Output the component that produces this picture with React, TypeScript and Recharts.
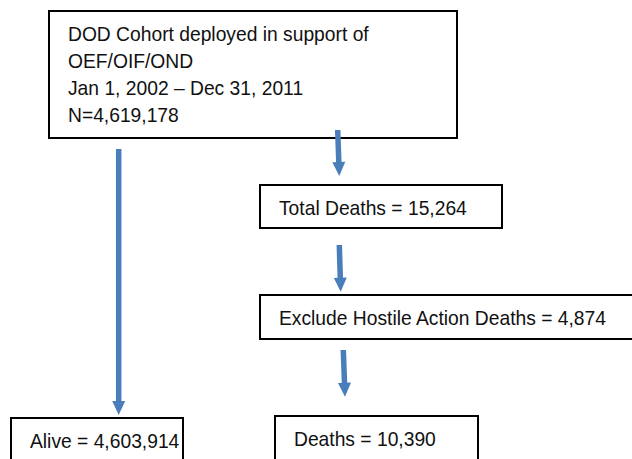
import React from 'react';
import { ComposedChart, XAxis, YAxis, Scatter, ReferenceArea, ReferenceLine } from 'recharts';

// flowchart boxes (page coordinates, y grows downward)
const boxLabels: string[][] = [
    ['DOD Cohort deployed in support of', 'OEF/OIF/OND', 'Jan 1, 2002 \u2013 Dec 31, 2011', 'N=4,619,178'],
    ['Total Deaths = 15,264'],
    ['Exclude Hostile Action Deaths = 4,874'],
    ['Alive = 4,603,914'],
    ['Deaths = 10,390'],
];
const boxLeft = [49, 260, 260, 11, 275];
const boxRight = [457, 502, 640, 183, 478];
const boxTop = [11, 185, 295, 418, 416];
const boxBottom = [138, 228, 339, 470, 470];

// arrows: start -> tip
const arrowFromX = [118.7, 337.7, 339.3, 343.3];
const arrowFromY = [149, 130, 245, 350];
const arrowToX = [118.7, 339.3, 340.7, 345];
const arrowToY = [415, 176, 291.7, 396.7];

const nodes = boxLabels.map((lines, i) => ({ x: boxLeft[i], y: boxTop[i], lines }));

const BLUE = '#4A7EBB';
const FONT = '"Liberation Sans", Arial, Helvetica, sans-serif';
const SX = 0.94;

const BoxText = (props: any) => {
    const { cx, cy, payload } = props;
    if (cx == null || cy == null) return null;
    const tx = cx + 19;
    return (
        <text
            x={tx} y={cy + 30} fill="#111" fontSize={20.5} fontFamily={FONT}
            transform={`translate(${tx},0) scale(${SX},1) translate(${-tx},0)`}
        >
            {payload.lines.map((l: string, i: number) => (
                <tspan key={i} x={tx} y={cy + 30 + i * 27}>{l}</tspan>
            ))}
        </text>
    );
};

const Arrow = (props: any) => {
    const { x1, y1, x2, y2 } = props;
    const dx = x2 - x1, dy = y2 - y1;
    const len = Math.sqrt(dx * dx + dy * dy) || 1;
    const ux = dx / len, uy = dy / len;
    const nx = -uy, ny = ux;
    const head = 14, hw = 6.5;
    const bx = x2 - ux * head, by = y2 - uy * head;
    return (
        <g>
            <line x1={x1} y1={y1} x2={bx + ux} y2={by + uy} stroke={BLUE} strokeWidth={5.5} />
            <polygon
                points={`${x2},${y2} ${bx + nx * hw},${by + ny * hw} ${bx - nx * hw},${by - ny * hw}`}
                fill={BLUE}
            />
        </g>
    );
};

export default function App() {
    return (
        <div style={{ position: 'absolute', left: 0, top: 0, background: '#fff' }}>
            <ComposedChart width={632} height={459} margin={{ top: 0, right: 0, bottom: 0, left: 0 }}>
                <XAxis type="number" dataKey="x" domain={[0, 632]} hide allowDataOverflow />
                <YAxis type="number" dataKey="y" domain={[0, 459]} reversed hide allowDataOverflow />
                {boxLabels.map((_, i) => (
                    <ReferenceArea
                        key={`box${i}`}
                        x1={boxLeft[i]} x2={boxRight[i]} y1={boxTop[i]} y2={boxBottom[i]}
                        ifOverflow="visible"
                        fill="#fff" fillOpacity={1} stroke="#000" strokeWidth={2}
                    />
                ))}
                <Scatter data={nodes} shape={<BoxText />} isAnimationActive={false} />
                {arrowFromX.map((_, i) => (
                    <ReferenceLine
                        key={`arr${i}`}
                        segment={[{ x: arrowFromX[i], y: arrowFromY[i] }, { x: arrowToX[i], y: arrowToY[i] }]}
                        ifOverflow="visible"
                        shape={Arrow}
                    />
                ))}
            </ComposedChart>
        </div>
    );
}
